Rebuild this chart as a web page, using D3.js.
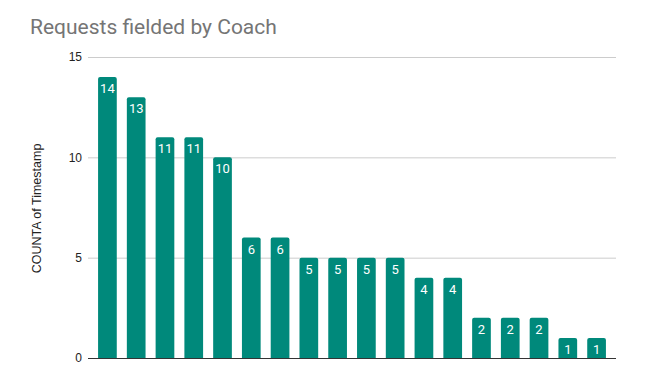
<!DOCTYPE html>
<html>
<head>
<meta charset="utf-8">
<script src="https://cdn.jsdelivr.net/npm/d3@7"></script>
<style>
	body { margin: 0; background: #fff; }
	svg { display: block; }
</style>
</head>
<body>
<div id="chart"></div>
<script>
// chart data (coach names are not shown on the axis)
var coaches = ["c1", "c2", "c3", "c4", "c5", "c6", "c7", "c8", "c9",
	"c10", "c11", "c12", "c13", "c14", "c15", "c16", "c17", "c18"];
var counts = [14, 13, 11, 11, 10, 6, 6, 5, 5, 5, 5, 4, 4, 2, 2, 2, 1, 1];
var yTicks = [0, 5, 10, 15];

var width = 654, height = 386;
// plot area (note: "top" is reserved on window, so use a prefix)
var plotLeft = 88, plotRight = 616, plotTop = 57, plotBottom = 358;

var svg = d3.select("#chart").append("svg")
	.attr("width", width)
	.attr("height", height);

var x = d3.scaleBand()
	.domain(coaches)
	.range([plotLeft, plotRight])
	.padding(0.35);

var y = d3.scaleLinear()
	.domain([0, 15])
	.range([plotBottom, plotTop]);

// title
svg.append("text")
	.attr("x", 30)
	.attr("y", 34)
	.attr("font-family", "Roboto, sans-serif")
	.attr("font-size", 21)
	.attr("fill", "#757575")
	.text("Requests fielded by Coach");

// gridlines + tick labels
var yAxis = d3.axisLeft(y)
	.tickValues(yTicks)
	.tickSize(-(plotRight - plotLeft))
	.tickPadding(6);

var ga = svg.append("g")
	.attr("transform", "translate(" + plotLeft + ",0)")
	.call(yAxis);
ga.select(".domain").remove();
ga.selectAll(".tick line")
	.attr("stroke", "#cccccc")
	.attr("stroke-width", 1);
ga.selectAll(".tick text")
	.attr("font-family", "'Liberation Sans', Arial, sans-serif")
	.attr("font-size", 12)
	.attr("fill", "#222");

// axis title
svg.append("text")
	.attr("transform", "translate(41," + ((plotTop + plotBottom) / 2 + 1) + ") rotate(-90)")
	.attr("text-anchor", "middle")
	.attr("font-family", "'Liberation Sans', Arial, sans-serif")
	.attr("font-size", 12.5)
	.attr("fill", "#222")
	.text("COUNTA of Timestamp");

// bars
svg.append("g").selectAll("path")
	.data(counts)
	.enter().append("path")
	.attr("fill", "#00897b")
	.attr("d", function(d, i) {
		var x0 = x(coaches[i]), w = x.bandwidth();
		var y0 = y(d), r = 2;
		return "M" + x0 + "," + plotBottom +
			"V" + (y0 + r) +
			"Q" + x0 + "," + y0 + " " + (x0 + r) + "," + y0 +
			"H" + (x0 + w - r) +
			"Q" + (x0 + w) + "," + y0 + " " + (x0 + w) + "," + (y0 + r) +
			"V" + plotBottom + "Z";
	});

// value labels
svg.append("g").selectAll("text")
	.data(counts)
	.enter().append("text")
	.attr("x", function(d, i) { return x(coaches[i]) + x.bandwidth() / 2; })
	.attr("y", function(d) { return y(d) + 16; })
	.attr("text-anchor", "middle")
	.attr("font-family", "Roboto, sans-serif")
	.attr("font-size", 13)
	.attr("fill", "#fff")
	.text(function(d) { return d; });

// baseline
svg.append("line")
	.attr("x1", plotLeft)
	.attr("x2", plotRight)
	.attr("y1", y(0) + 0.5)
	.attr("y2", y(0) + 0.5)
	.attr("stroke", "#333")
	.attr("stroke-width", 1);
</script>
</body>
</html>
